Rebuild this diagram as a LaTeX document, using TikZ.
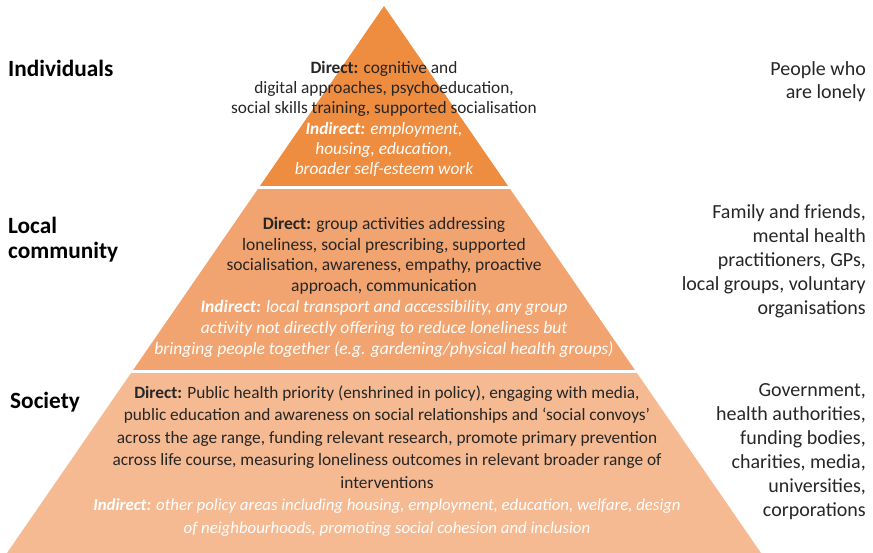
\documentclass[tikz,border=0pt]{standalone}
\usepackage{fontspec}
\setmainfont{Carlito}
\definecolor{tierone}{RGB}{238,140,64}
\definecolor{tiertwo}{RGB}{242,164,112}
\definecolor{tierthree}{RGB}{245,186,146}
\definecolor{inktext}{RGB}{38,38,38}
\newcommand{\indline}[1]{{\color{white}\itshape #1}}
\newcommand{\smallind}[1]{{\color{white}\itshape\fontsize{16.8}{20}\selectfont #1}}
\tikzset{
    level/.style = {font=\bfseries\fontsize{23.3}{25}\selectfont, text=black, anchor=west, align=left, inner sep=0pt},
    who/.style = {font=\fontsize{20}{24}\selectfont, text=inktext, anchor=east, align=right, inner sep=0pt},
    tiertext/.style = {text=inktext, align=center, inner sep=0pt},
    gap/.style = {draw=white, line width=3pt}
}

\begin{document}
\begin{tikzpicture}[x=1pt, y=-1pt]

\useasboundingbox (0,0) rectangle (873,553);

% Pyramid bands
\coordinate (apex) at (384,6);
\begin{scope}
    \clip (apex) -- (7,553) -- (761,553) -- cycle;
    \fill[tierone] (0,0) rectangle (873,187.5);
    \fill[tiertwo] (0,187.5) rectangle (873,371.5);
    \fill[tierthree] (0,371.5) rectangle (873,553);
    \draw[gap] (0,187.5) -- (873,187.5);
    \draw[gap] (0,371.5) -- (873,371.5);
\end{scope}

% Levels on the left
\node (individuals) [level] at (8,68) {Individuals};
\node (local) [level] at (8,240) {Local\\community};
\node (society) [level] at (10,402) {Society};

% Who is involved, on the right
\node (lonely) [who, font=\fontsize{20}{23}\selectfont] at (866,81.5) {People who\\are lonely};
\node (helpers) [who] at (866,261) {Family and friends,\\mental health\\practitioners, GPs,\\local groups, voluntary\\organisations};
\node (bodies) [who] at (866,452) {Government,\\health authorities,\\funding bodies,\\charities, media,\\universities,\\corporations};

% Interventions in each band
\node (toptext) [tiertext, font=\fontsize{17.3}{20.3}\selectfont] at (384,119) {\textbf{Direct:} cognitive and\\digital approaches, psychoeducation,\\social skills training, supported socialisation\\\indline{\textbf{Indirect:} employment,}\\\indline{housing, education,}\\\indline{broader self-esteem work}};
\node (midtext) [tiertext, font=\fontsize{17.5}{20.8}\selectfont] at (384,287) {\textbf{Direct:} group activities addressing\\loneliness, social prescribing, supported\\socialisation, awareness, empathy, proactive\\approach, communication\\\indline{\textbf{Indirect:} local transport and accessibility, any group}\\\indline{activity not directly offering to reduce loneliness but}\\\indline{bringing people together (e.g. gardening/physical health groups)}};
\node (basetext) [tiertext, font=\fontsize{17.3}{22.5}\selectfont] at (387,461) {\textbf{Direct:} Public health priority (enshrined in policy), engaging with media,\\public education and awareness on social relationships and `social convoys'\\across the age range, funding relevant research, promote primary prevention\\across life course, measuring loneliness outcomes in relevant broader range of\\interventions\\\smallind{\textbf{Indirect:} other policy areas including housing, employment, education, welfare, design}\\\smallind{of neighbourhoods, promoting social cohesion and inclusion}};

\end{tikzpicture}
\end{document}
